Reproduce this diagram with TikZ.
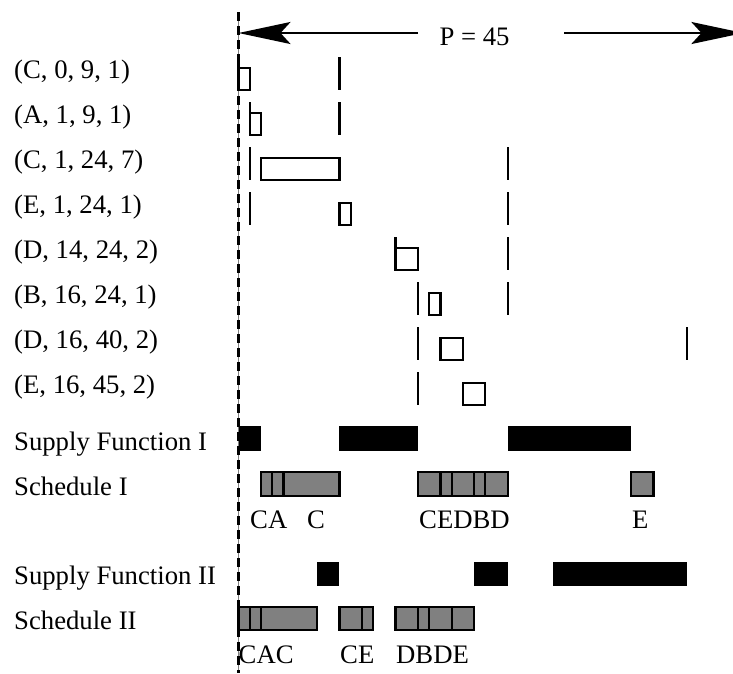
\documentclass[tikz,border=0pt]{standalone}
\usepackage{fontspec}
\setmainfont{Liberation Serif}
\usetikzlibrary{arrows.meta}
\definecolor{schedgray}{RGB}{128,128,128}
% time t sits at x = 238.5 + 11.22 t
\newcommand{\tpos}[1]{238.5+11.22*(#1)}
\begin{document}
\begin{tikzpicture}[x=1pt,y=-1pt,
  txt/.style={font=\fontsize{26.7}{32}\selectfont, inner sep=0pt, anchor=base west},
  limitline/.style={line width=2.3pt},
  jobbox/.style={draw, line width=2.3pt, fill=white},
  supplybox/.style={fill=black},
  schedbox/.style={draw, line width=2.3pt, fill=schedgray},
  axisline/.style={line width=2.3pt, dash pattern=on 9pt off 5pt},
  period/.style={line width=2.3pt, -{Stealth[length=52pt,width=22pt,inset=10pt]}}
]
\useasboundingbox (0,0) rectangle (733,673);
\clip (0,0) rectangle (733,673);

% time origin
\coordinate (ztop) at ({\tpos{0}},12);
\coordinate (zbot) at ({\tpos{0}},673);
\draw[line width=0.7pt, gray] (ztop) -- (zbot);
\draw[axisline] (ztop) -- (zbot);

% period P = 45
\node[txt, anchor=base] (plabel) at (474.5,45) {P = 45};
\coordinate (pl) at (418,33);
\coordinate (p0) at ({\tpos{0}},33);
\coordinate (pr) at (564,33);
\coordinate (p45) at ({\tpos{45}},33);
\draw[period] (pl) -- (p0);
\draw[period] (pr) -- (p45);

% jobs: release / deadline / execution interval
\foreach \lab/\r/\d/\a/\b [count=\i from 0] in {
  {(C, 0, 9, 1)}/0/9/0/1,
  {(A, 1, 9, 1)}/1/9/1/2,
  {(C, 1, 24, 7)}/1/24/2/9,
  {(E, 1, 24, 1)}/1/24/9/10,
  {(D, 14, 24, 2)}/14/24/14/16,
  {(B, 16, 24, 1)}/16/24/17/18,
  {(D, 16, 40, 2)}/16/40/18/20,
  {(E, 16, 45, 2)}/16/45/20/22} {
  \node[txt] (job\i) at (14,{78.5+45*\i}) {\lab};
  \draw[limitline] ({\tpos{\r}},{57+45*\i}) -- ({\tpos{\r}},{90+45*\i});
  \draw[limitline] ({\tpos{\d}},{57+45*\i}) -- ({\tpos{\d}},{90+45*\i});
  \draw[jobbox] ({\tpos{\a}},{68+45*\i}) rectangle ({\tpos{\b}},{90+45*\i});
}

% supply function I and schedule I
\node[txt] (supI) at (14,450) {Supply Function I};
\node[txt] (schI) at (14,495) {Schedule I};
\foreach \a/\b in {0/2, 9/16, 24/35}
  \fill[supplybox] ({\tpos{\a}},426) rectangle ({\tpos{\b}},451);
\foreach \a/\b in {2/3, 3/4, 4/9, 16/18, 18/19, 19/21, 21/22, 22/24, 35/37}
  \draw[schedbox] ({\tpos{\a}},472) rectangle ({\tpos{\b}},496);
\node[txt] (sIa) at (250,528) {CA};
\node[txt] (sIb) at (307,528) {C};
\node[txt] (sIc) at (419,528) {CEDBD};
\node[txt] (sId) at (632,528) {E};

% supply function II and schedule II
\node[txt] (supII) at (14,584) {Supply Function II};
\node[txt] (schII) at (14,629) {Schedule II};
\foreach \a/\b in {7/9, 21/24, 28/40}
  \fill[supplybox] ({\tpos{\a}},562) rectangle ({\tpos{\b}},586);
\foreach \a/\b in {0/1, 1/2, 2/7, 9/11, 11/12, 14/16, 16/17, 17/19, 19/21}
  \draw[schedbox] ({\tpos{\a}},607) rectangle ({\tpos{\b}},630);
\node[txt] (sIIa) at (238.5,663) {CAC};
\node[txt] (sIIb) at (340,663) {CE};
\node[txt] (sIIc) at (396,663) {DBDE};
\end{tikzpicture}
\end{document}
